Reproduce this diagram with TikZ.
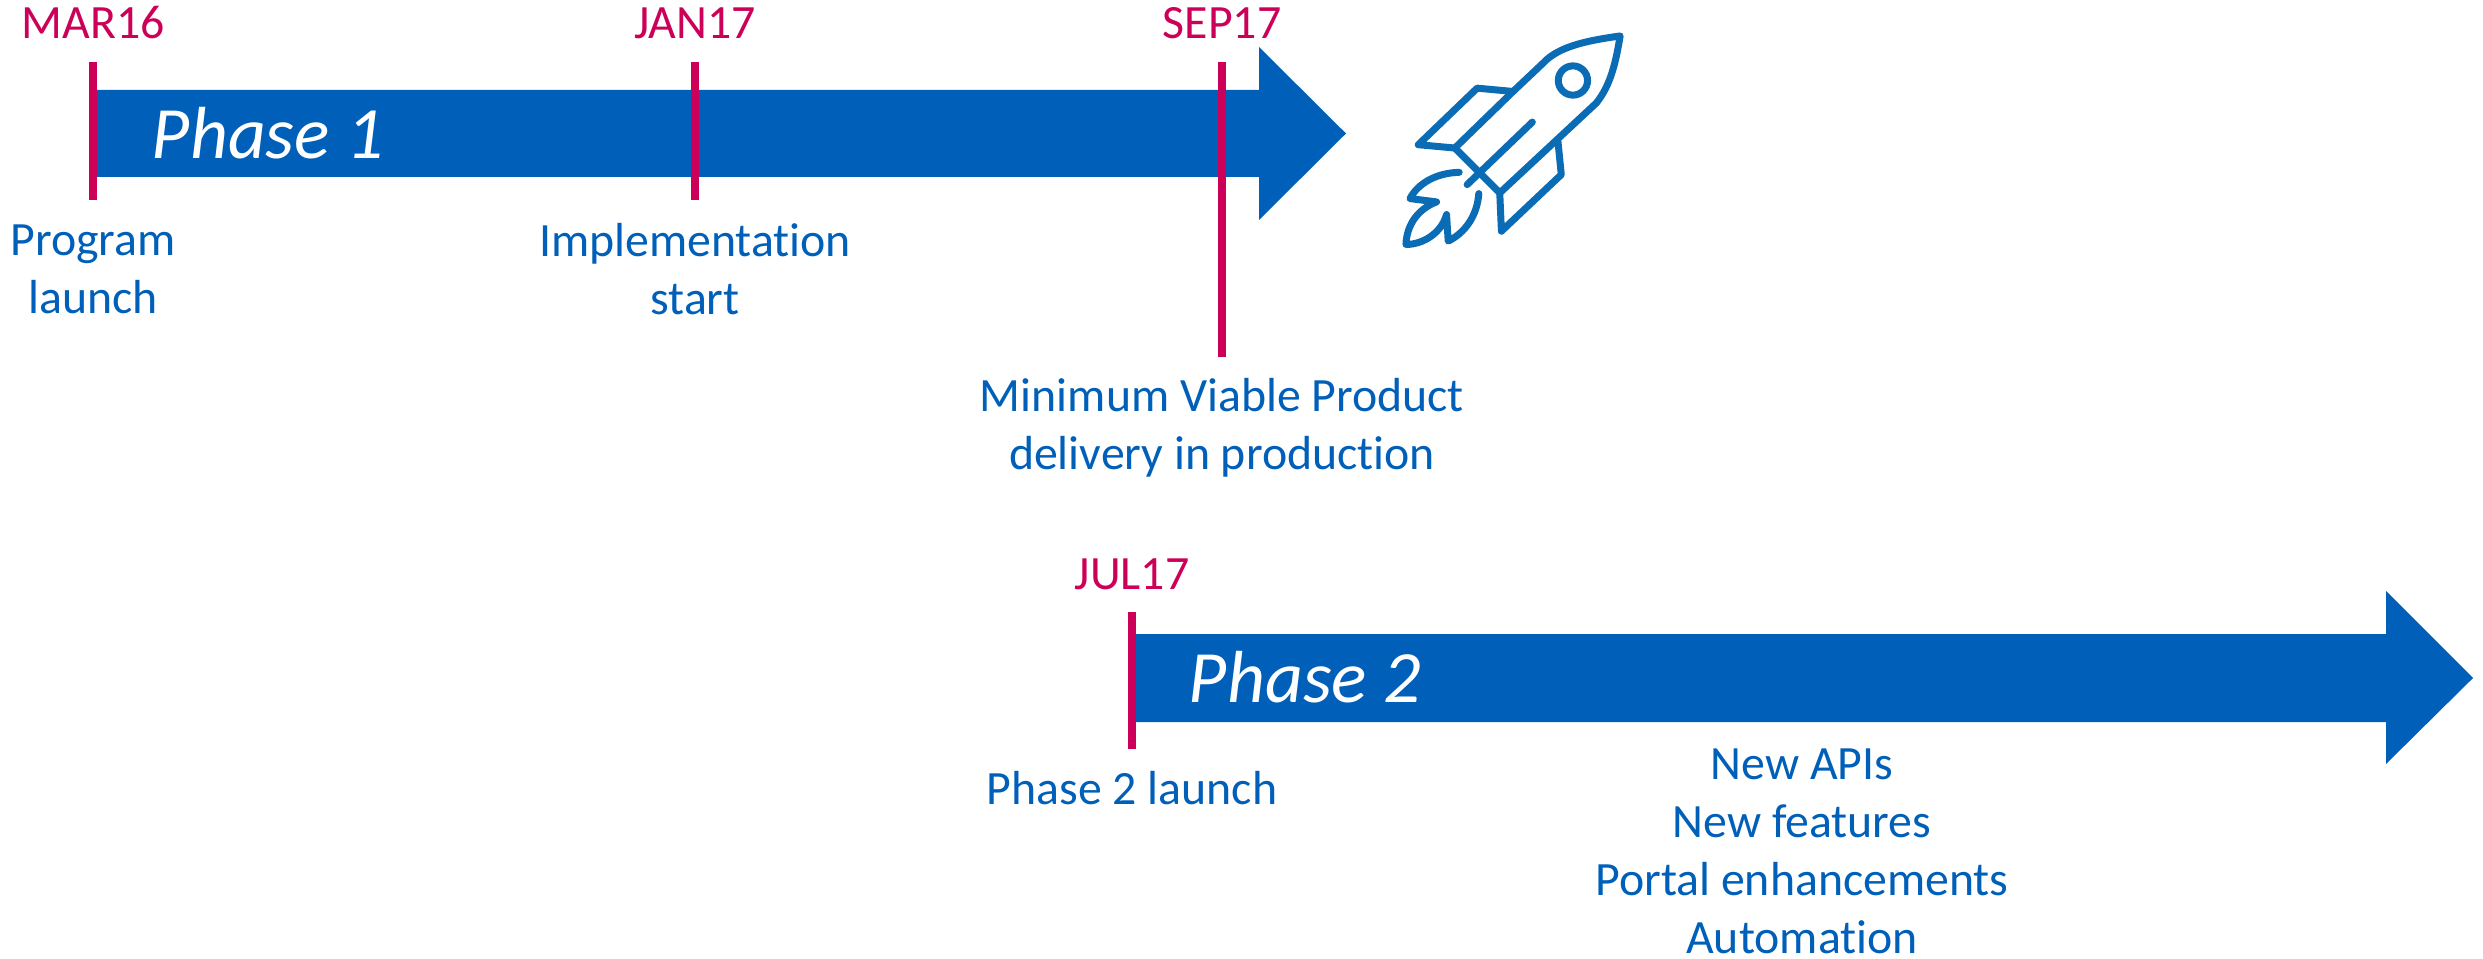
\documentclass[tikz,border=0pt]{standalone}
\usepackage{fontspec}
\setmainfont[Ligatures=NoCommon]{Carlito}
\usepackage{tikz}
\usetikzlibrary{positioning}
\definecolor{phaseblue}{HTML}{005FB8}
\definecolor{tickred}{HTML}{CC0058}
\definecolor{rocketblue}{HTML}{0B6CB6}
\tikzset{
	phasearrow/.style={fill=phaseblue, draw=none},
	tickline/.style={draw=tickred, line width=0.08cm},
	datelabel/.style={text=tickred, font=\fontsize{13.6}{16}\selectfont, inner sep=0pt},
	milestone/.style={text=phaseblue, font=\fontsize{13.6}{16.5}\selectfont, align=center, inner sep=0pt},
	phaselabel/.style={text=white, font=\fontsize{21}{25}\selectfont\itshape, inner sep=0pt},
	rocketline/.style={draw=rocketblue, line width=0.07cm, line join=round, line cap=round}
}
\begin{document}
\begin{tikzpicture}
		\useasboundingbox (0,0) rectangle (24.83,9.58);
		
		% phase arrows
		\path[phasearrow] (0.97,8.68) -- (12.59,8.68) -- (12.59,9.11) -- (13.46,8.245) -- (12.59,7.38) -- (12.59,7.81) -- (0.97,7.81) -- cycle;
		\path[phasearrow] (11.36,3.24) -- (23.86,3.24) -- (23.86,3.67) -- (24.73,2.80) -- (23.86,1.94) -- (23.86,2.36) -- (11.36,2.36) -- cycle;
		
		\node[phaselabel] (PH1) at (2.68,8.25) {Phase 1};
		\node[phaselabel] (PH2) at (13.05,2.81) {Phase 2};
		
		% tick ends
		\coordinate (T1) at (0.93,8.96);
		\coordinate (B1) at (0.93,7.58);
		\coordinate (T2) at (6.95,8.96);
		\coordinate (B2) at (6.95,7.58);
		\coordinate (T3) at (12.22,8.96);
		\coordinate (B3) at (12.22,6.01);
		\coordinate (T4) at (11.32,3.46);
		\coordinate (B4) at (11.32,2.09);
		
		\path[tickline] (T1) -- (B1);
		\path[tickline] (T2) -- (B2);
		\path[tickline] (T3) -- (B3);
		\path[tickline] (T4) -- (B4);
		
		\node[datelabel, above of=T1, node distance=0.39cm](D1){MAR16};
		\node[datelabel, above of=T2, node distance=0.39cm](D2){JAN17};
		\node[datelabel, above of=T3, node distance=0.39cm](D3){SEP17};
		\node[datelabel, above of=T4, node distance=0.38cm](D4){JUL17};
		
		\node[milestone, below of=B1, node distance=0.69cm](L1){Program\\launch};
		\node[milestone, below of=B2, node distance=0.69cm](L2){Implementation\\start};
		\node[milestone, below of=B3, node distance=0.71cm](L3){Minimum Viable Product\\delivery in production};
		\node[milestone, below of=B4, node distance=0.39cm](L4){Phase 2 launch};
		\node[milestone] (L5) at (18.02,1.07) {New APIs\\New features\\Portal enhancements\\Automation};
		
		% rocket, numbers are pixels of the crop
		\begin{scope}[shift={(13.8,9.48)}, x=0.003333cm, y=-0.003333cm, rocketline]
		\draw (225,415) -- (400,245) -- (490,160) .. controls (540,105) and (640,90) .. (722,78) .. controls (710,150) and (695,225) .. (650,280) -- (360,550) -- cycle;
		\draw (225,415) -- (115,405) -- (292,235) -- (400,245);
		\draw (360,550) -- (365,665) -- (545,495) -- (535,395);
		\draw (458,337) -- (262,525);
		\draw (580,212) circle (44);
		\draw (238,488) .. controls (170,490) and (115,520) .. (90,567) -- (170,577) .. controls (110,600) and (80,650) .. (78,705) .. controls (130,705) and (185,670) .. (200,615) -- (205,695) .. controls (255,670) and (292,620) .. (297,552);
		\end{scope}
\end{tikzpicture}
\end{document}
